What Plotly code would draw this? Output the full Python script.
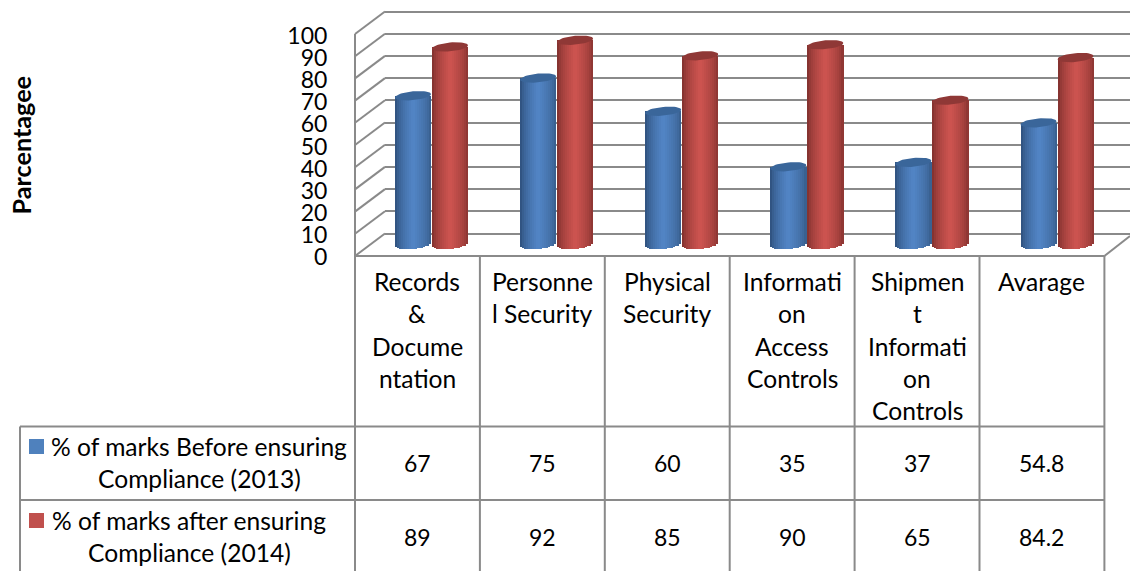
import math
import plotly.graph_objects as go

# ---------- data ----------
categories = [
    ["Records", "&", "Docume", "ntation"],
    ["Personne", "l Security"],
    ["Physical", "Security"],
    ["Informati", "on", "Access", "Controls"],
    ["Shipmen", "t", "Informati", "on", "Controls"],
    ["Avarage"],
]
before_2013 = [67, 75, 60, 35, 37, 54.8]
after_2014 = [89, 92, 85, 90, 65, 84.2]
before_labels = ["67", "75", "60", "35", "37", "54.8"]
after_labels = ["89", "92", "85", "90", "65", "84.2"]
series_before_name = ["% of marks Before ensuring", "Compliance (2013)"]
series_after_name = ["% of marks after ensuring", "Compliance (2014)"]
axis_title = "Parcentagee"
y_ticks = [0, 10, 20, 30, 40, 50, 60, 70, 80, 90, 100]

# ---------- geometry and style ----------
W, H = 1130, 571
FONT = "Lato"
INK = "#000000"
GRID = "#8a8a8a"
UNIT = 2.22
BAR_ZERO = 244.5
GROUP_LEFT, GROUP_STEP = 431.5, 125.1
COL_LEFT, COL_STEP = 355.0, 124.9
CYL_W = 36.0 / GROUP_STEP
SEMI = 4.4 / UNIT
TILT = 1.6 / UNIT
STRIPS = 18
WALL_ZERO = 233.5


def px(v):
    return v / W


def py(v):
    return 1 - v / H


def mix(a, b, t):
    return "rgb(%d,%d,%d)" % tuple(round(a[k] + (b[k] - a[k]) * t) for k in range(3))


BLUE_EDGE_L, BLUE_EDGE_R, BLUE_MID, BLUE_TOP = (40, 72, 112), (52, 88, 132), (82, 133, 198), "#3a669a"
RED_EDGE_L, RED_EDGE_R, RED_MID, RED_TOP = (115, 42, 40), (128, 48, 45), (206, 84, 80), "#8f3836"

fig = go.Figure()

# wall plane, only carries the gridlines
fig.add_trace(go.Scatter(x=[0], y=[0], xaxis="x", yaxis="y", mode="markers",
                         marker=dict(opacity=0), hoverinfo="skip", showlegend=False))


def add_cylinders(values, left, edge_l, edge_r, mid, top_color):
    for s in range(STRIPS):
        t0 = s / STRIPS
        tc = (s + 0.5) / STRIPS
        u = 2 * tc - 1
        shade = max(0.0, 1 - abs(tc - 0.5) / 0.5) ** 0.55
        color = mix(edge_l if tc < 0.5 else edge_r, mid, shade)
        drop = -SEMI * math.sqrt(max(0.0, 1 - u * u)) + TILT * u
        fig.add_trace(go.Bar(
            x=list(range(len(values))),
            y=[v - drop for v in values],
            base=[drop] * len(values),
            offset=left + t0 * CYL_W,
            width=CYL_W / STRIPS + 0.002,
            marker=dict(color=color, line=dict(width=0)),
            xaxis="x2", yaxis="y2", hoverinfo="skip", showlegend=False,
        ))
    xs, ys = [], []
    for i, v in enumerate(values):
        for k in range(49):
            a = 2 * math.pi * k / 48
            u = math.cos(a)
            xs.append(i + left + (u + 1) / 2 * CYL_W)
            ys.append(v + SEMI * math.sin(a) + TILT * u)
        xs.append(None)
        ys.append(None)
    fig.add_trace(go.Scatter(x=xs, y=ys, mode="lines", fill="toself", fillcolor=top_color,
                             line=dict(width=0, color=top_color),
                             xaxis="x2", yaxis="y2", hoverinfo="skip", showlegend=False))


add_cylinders(before_2013, -CYL_W - 0.004, BLUE_EDGE_L, BLUE_EDGE_R, BLUE_MID, BLUE_TOP)
add_cylinders(after_2014, 0.004, RED_EDGE_L, RED_EDGE_R, RED_MID, RED_TOP)

# front plane: carries the tick labels
fig.add_trace(go.Scatter(x=[0], y=[0], xaxis="x2", yaxis="y3", mode="markers",
                         marker=dict(opacity=0), hoverinfo="skip", showlegend=False))

shapes = []


def line(x0, y0, x1, y1):
    shapes.append(dict(type="line", xref="paper", yref="paper", layer="below",
                       x0=px(x0), y0=py(y0), x1=px(x1), y1=py(y1),
                       line=dict(color=GRID, width=2)))


# side wall and floor diagonals
for v in y_ticks:
    line(355, 256 - UNIT * v, 385, WALL_ZERO - UNIT * v)
line(COL_LEFT + 6 * COL_STEP, 256, 1130, 236)
line(355, 34, 355, 256)

# table grid
for c in range(7):
    x = COL_LEFT + c * COL_STEP
    line(x, 256, x, H)
line(355, 256, COL_LEFT + 6 * COL_STEP, 256)
line(20, 426.5, COL_LEFT + 6 * COL_STEP, 426.5)
line(20, 500, COL_LEFT + 6 * COL_STEP, 500)
line(20, 426.5, 20, H)

# legend keys
for top, color in ((439, "#4f81bd"), (513, "#c0504d")):
    shapes.append(dict(type="rect", xref="paper", yref="paper", x0=px(29), x1=px(44),
                       y0=py(top + 15), y1=py(top), fillcolor=color, line=dict(width=0)))

annotations = []
TXT = 24.6
NUM = 23


def text(s, x, y, size=TXT, **kw):
    annotations.append(dict(text=s, x=px(x), y=py(y), xref="paper", yref="paper",
                            xanchor="center", yanchor="middle", showarrow=False,
                            font=dict(family=FONT, size=size, color=INK), **kw))


for c, lines in enumerate(categories):
    cx = COL_LEFT + (c + 0.5) * COL_STEP
    for n, s in enumerate(lines):
        text(s, cx, 281.5 + 32.3 * n)
    text(before_labels[c], cx, 462.5, NUM)
    text(after_labels[c], cx, 536.5, NUM)

text(series_before_name[0], 199, 446)
text(series_before_name[1], 199, 478.5)
text(series_after_name[0], 189, 520)
text(series_after_name[1], 189, 552.5)
annotations.append(dict(text="<b>" + axis_title + "</b>", x=px(20.5), y=py(145), xref="paper", yref="paper",
                        showarrow=False, textangle=-90, xanchor="center", yanchor="middle",
                        font=dict(family=FONT, size=25.2, color=INK)))

# wall axis extends slightly past 0 and 100 so both end gridlines are drawn
PAD = 3
fig.update_layout(
    width=W, height=H, autosize=False,
    margin=dict(l=0, r=0, t=0, b=0, pad=0),
    paper_bgcolor="white", plot_bgcolor="rgba(0,0,0,0)",
    barmode="overlay", bargap=0, showlegend=False,
    shapes=shapes, annotations=annotations,
    xaxis=dict(domain=[px(385), 1], range=[0, 1], visible=False, fixedrange=True, automargin=False),
    yaxis=dict(domain=[py(WALL_ZERO + PAD * UNIT), py(WALL_ZERO - (100 + PAD) * UNIT)],
               range=[-PAD, 100 + PAD], tickvals=y_ticks, showticklabels=False,
               showgrid=True, gridcolor=GRID, gridwidth=2, zeroline=False, showline=False, ticks="",
               fixedrange=True, automargin=False),
    xaxis2=dict(domain=[0, 1], anchor="y2",
                range=[(0 - GROUP_LEFT) / GROUP_STEP, (W - GROUP_LEFT) / GROUP_STEP],
                visible=False, fixedrange=True, automargin=False),
    yaxis2=dict(domain=[0, 1], anchor="x2",
                range=[(BAR_ZERO - H) / UNIT, BAR_ZERO / UNIT],
                visible=False, fixedrange=True, automargin=False),
    yaxis3=dict(domain=[py(257), py(36)], range=[0, 100], anchor="free", position=px(355),
                tickvals=y_ticks, ticktext=[str(v) for v in y_ticks],
                showgrid=False, zeroline=False, showline=False,
                ticks="outside", ticklen=23, tickcolor="rgba(0,0,0,0)",
                tickfont=dict(family=FONT, size=23, color=INK), fixedrange=True, automargin=False),
)

fig.write_html("out.html", config=dict(displayModeBar=False),
               post_script="document.body.style.margin='0';")
